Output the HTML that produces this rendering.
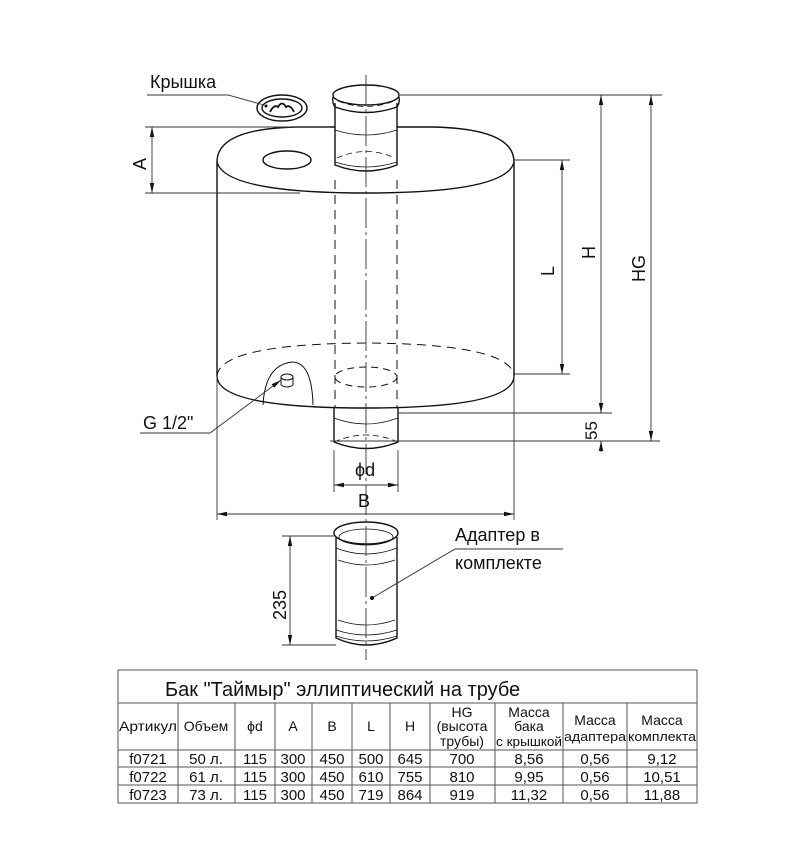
<!DOCTYPE html>
<html><head><meta charset="utf-8"><style>
body{margin:0;background:#fff;width:803px;height:845px;overflow:hidden}
svg{position:absolute;left:0;top:0}
text{font-family:"Liberation Sans",sans-serif;fill:#111}
</style></head><body>
<svg width="803" height="845" viewBox="0 0 803 845">
<defs>
<marker id="a" markerWidth="10" markerHeight="6" refX="10" refY="3" orient="auto-start-reverse" markerUnits="userSpaceOnUse"><path d="M0,0.8 L10,3 L0,5.2 z" fill="#111"/></marker>
</defs>
<g stroke="#111" fill="none" stroke-width="1.4">
<!-- tank body -->
<path d="M217,162 Q217,128 300,127 L430,127 Q514,128 514,162 L514,376 Q514,408 366,408 Q217,408 217,376 Z" fill="#fff"/>
<path d="M217,162 Q225,193 366,193 Q507,193 514,162" />
<path d="M217,376 Q220,344 366,343 Q511,344 514,376" stroke-dasharray="9,6" stroke-width="1"/>
<ellipse cx="287" cy="160" rx="24" ry="9"/>
<!-- G1/2 bulge -->
<path d="M263,405 Q265,365 292,362 Q312,362 313,405" stroke-width="1"/>
<ellipse cx="287" cy="377" rx="6" ry="3" stroke-width="1"/>
<path d="M281,377 V385 Q287,389 293,385 V377" stroke-width="1"/>
<!-- pipe top -->
<path d="M335,103 V165 Q366,177 397,165 V103" fill="#fff"/>
<ellipse cx="366" cy="95" rx="33" ry="10" fill="#fff"/>
<path d="M333,97 Q332,103 335,107 Q366,118 397,107 Q400,103 399,97" />
<path d="M338,101 Q366,112 394,101" stroke-dasharray="6,4" stroke-width="0.8"/>
<path d="M335,130 Q366,140 397,130" stroke-width="0.8"/>
<path d="M337,158 Q366,145 395,158" stroke-dasharray="6,4" stroke-width="0.8"/>
<path d="M335,162 Q366,172 397,162" stroke-width="0.8"/>
<!-- dashed pipe inside -->
<line x1="335" y1="180" x2="335" y2="408" stroke-dasharray="9,6" stroke-width="1"/>
<line x1="397" y1="180" x2="397" y2="408" stroke-dasharray="9,6" stroke-width="1"/>
<ellipse cx="366" cy="377" rx="31" ry="10" stroke-dasharray="7,5" stroke-width="1"/>
<!-- pipe bottom -->
<path d="M334,408 V442 Q366,455 398,442 V408"/>
<path d="M334,418 Q366,430 398,418" stroke-width="0.8"/>
<path d="M334,442 Q366,428 398,442" stroke-dasharray="6,4" stroke-width="0.8"/>
<!-- lid -->
<ellipse cx="282" cy="108" rx="25" ry="13"/>
<ellipse cx="282" cy="108" rx="20" ry="9"/>
<path d="M270,112 Q274,104 278,107 Q282,100 286,107 Q290,104 294,112" stroke-width="1.8"/>
<!-- adapter -->
<path d="M336,537 V638 Q366,652 397,638 V537" fill="#fff"/>
<ellipse cx="366" cy="533" rx="32" ry="11" fill="#fff"/>
<ellipse cx="366" cy="537" rx="27" ry="8" stroke-width="0.8"/>
<path d="M336,548 Q366,560 397,548" stroke-width="0.8"/>
<path d="M338,560 Q366,570 395,560" stroke-width="0.8"/>
<path d="M338,620 Q366,630 395,620" stroke-width="0.8"/>
<path d="M336,630 Q366,640 397,630" stroke-width="0.8"/>
<path d="M336,636 Q366,646 397,636" stroke-width="0.8"/>
</g>
<g stroke="#333" fill="none" stroke-width="0.9">
<line x1="366" y1="75" x2="366" y2="660" stroke-dasharray="30,4,3,4"/>
<line x1="145" y1="127" x2="330" y2="127"/>
<line x1="145" y1="193" x2="300" y2="193"/>
<line x1="400" y1="95" x2="662" y2="95"/>
<line x1="514" y1="160" x2="570" y2="160"/>
<line x1="514" y1="374" x2="570" y2="374"/>
<line x1="398" y1="413" x2="612" y2="413"/>
<line x1="330" y1="441" x2="660" y2="441"/>
<line x1="217" y1="376" x2="217" y2="520"/>
<line x1="514" y1="376" x2="514" y2="520"/>
<line x1="334" y1="450" x2="334" y2="492"/>
<line x1="398" y1="450" x2="398" y2="492"/>
<line x1="282" y1="536" x2="336" y2="536"/>
<line x1="282" y1="645" x2="336" y2="645"/>
<line x1="152" y1="127" x2="152" y2="193" marker-start="url(#a)" marker-end="url(#a)"/>
<line x1="562" y1="160" x2="562" y2="374" marker-start="url(#a)" marker-end="url(#a)"/>
<line x1="601" y1="95" x2="601" y2="413" marker-start="url(#a)" marker-end="url(#a)"/>
<line x1="651" y1="95" x2="651" y2="441" marker-start="url(#a)" marker-end="url(#a)"/>
<line x1="601" y1="441" x2="601" y2="452" marker-start="url(#a)"/>
<line x1="217" y1="514" x2="514" y2="514" marker-start="url(#a)" marker-end="url(#a)"/>
<line x1="334" y1="485" x2="398" y2="485" marker-start="url(#a)" marker-end="url(#a)"/>
<line x1="290" y1="536" x2="290" y2="645" marker-start="url(#a)" marker-end="url(#a)"/>
<polyline points="147,95 228,95 264,105"/>
<polyline points="140,433 210,433 281,380" marker-end="url(#a)"/>
<polyline points="563,549 455,549 372,598"/>
</g>
<circle cx="372" cy="598" r="2" fill="#111"/>
<circle cx="266" cy="106" r="1.5" fill="#111"/>
<text x="150" y="88" font-size="18">Крышка</text>
<text x="143" y="429" font-size="18">G 1/2"</text>
<text x="455" y="541" font-size="18">Адаптер в</text>
<text x="455" y="569" font-size="18">комплекте</text>
<text x="355" y="476" font-size="18">ϕd</text>
<text x="358" y="507" font-size="18">B</text>
<text font-size="18" transform="translate(146,170) rotate(-90)">A</text>
<text font-size="18" transform="translate(554,276) rotate(-90)">L</text>
<text font-size="18" transform="translate(595,259) rotate(-90)">H</text>
<text font-size="18" transform="translate(645,282) rotate(-90)">HG</text>
<text font-size="17" transform="translate(597,440) rotate(-90)">55</text>
<text font-size="18" transform="translate(286,620) rotate(-90)">235</text>
<g stroke="#555" stroke-width="1" fill="none">
<rect x="118" y="670" width="579" height="133"/>
<line x1="118" y1="703" x2="697" y2="703"/>
<line x1="118" y1="750" x2="697" y2="750"/>
<line x1="118" y1="767" x2="697" y2="767"/>
<line x1="118" y1="785" x2="697" y2="785"/>
<line x1="178" y1="703" x2="178" y2="803"/><line x1="235" y1="703" x2="235" y2="803"/>
<line x1="275" y1="703" x2="275" y2="803"/><line x1="312" y1="703" x2="312" y2="803"/>
<line x1="352" y1="703" x2="352" y2="803"/><line x1="390" y1="703" x2="390" y2="803"/>
<line x1="430" y1="703" x2="430" y2="803"/><line x1="495" y1="703" x2="495" y2="803"/>
<line x1="563" y1="703" x2="563" y2="803"/><line x1="627" y1="703" x2="627" y2="803"/>
</g>
<text x="165" y="696" font-size="20">Бак "Таймыр" эллиптический на трубе</text>
<g font-size="14" text-anchor="middle">
<text x="148" y="731" textLength="58" lengthAdjust="spacingAndGlyphs">Артикул</text><text x="206" y="731">Объем</text><text x="255" y="731">ϕd</text>
<text x="293" y="731">A</text><text x="332" y="731">B</text><text x="371" y="731">L</text><text x="410" y="731">H</text>
<text x="462" y="717">HG</text><text x="462" y="731">(высота</text><text x="462" y="746">трубы)</text>
<text x="529" y="717">Масса</text><text x="529" y="731">бака</text><text x="529" y="746" font-size="13" textLength="66" lengthAdjust="spacingAndGlyphs">с крышкой</text>
<text x="595" y="725">Масса</text><text x="595" y="741" font-size="13" textLength="62" lengthAdjust="spacingAndGlyphs">адаптера</text>
<text x="662" y="725">Масса</text><text x="662" y="741" font-size="13" textLength="68" lengthAdjust="spacingAndGlyphs">комплекта</text>
<g font-size="15">
<text x="148" y="764">f0721</text><text x="206" y="764">50 л.</text><text x="255" y="764">115</text><text x="293" y="764">300</text><text x="332" y="764">450</text><text x="371" y="764">500</text><text x="410" y="764">645</text><text x="462" y="764">700</text><text x="529" y="764">8,56</text><text x="595" y="764">0,56</text><text x="662" y="764">9,12</text>
<text x="148" y="782">f0722</text><text x="206" y="782">61 л.</text><text x="255" y="782">115</text><text x="293" y="782">300</text><text x="332" y="782">450</text><text x="371" y="782">610</text><text x="410" y="782">755</text><text x="462" y="782">810</text><text x="529" y="782">9,95</text><text x="595" y="782">0,56</text><text x="662" y="782">10,51</text>
<text x="148" y="800">f0723</text><text x="206" y="800">73 л.</text><text x="255" y="800">115</text><text x="293" y="800">300</text><text x="332" y="800">450</text><text x="371" y="800">719</text><text x="410" y="800">864</text><text x="462" y="800">919</text><text x="529" y="800">11,32</text><text x="595" y="800">0,56</text><text x="662" y="800">11,88</text>
</g></g>
</svg>
</body></html>
